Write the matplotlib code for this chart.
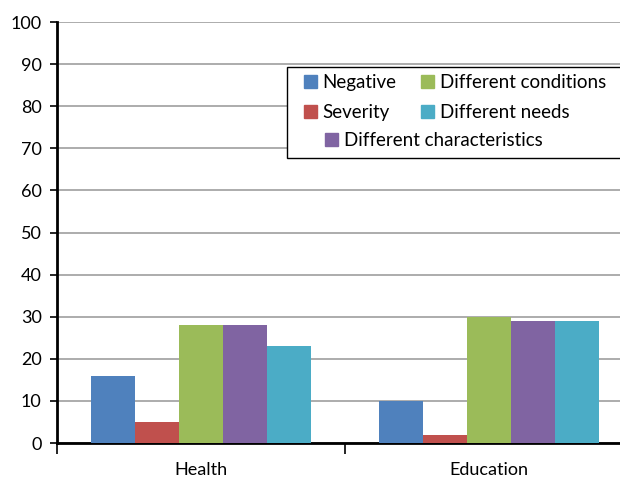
import numpy as np
import matplotlib.pyplot as plt
from matplotlib.patches import Patch, Rectangle

plt.rcParams['font.family'] = ['Lato', 'DejaVu Sans']

categories = ['Health', 'Education']
series = ['Negative', 'Severity', 'Different conditions',
          'Different characteristics', 'Different needs']
negative = [16, 10]
severity = [5, 2]
conditions = [28, 30]
characteristics = [28, 29]
needs = [23, 29]
colors = ['#4F81BD', '#C0504D', '#9BBB59', '#8064A2', '#4BACC6']

values = [negative, severity, conditions, characteristics, needs]

fig = plt.figure(figsize=(6.2, 4.79), dpi=100)
ax = fig.add_axes([57/620, 36/479, 563/620, 421/479])

x = np.arange(len(categories))
w = 0.153
for i, (vals, c) in enumerate(zip(values, colors)):
    ax.bar(x + (i - 2) * w, vals, w, color=c, zorder=3)

ax.set_ylim(0, 100)
ax.set_xlim(-0.5, 563/288 - 0.5)
ax.set_yticks(range(0, 101, 10))
ax.yaxis.grid(True, color='#a6a6a6', linewidth=1.3, zorder=0)
ax.tick_params(axis='y', labelsize=13, length=5, width=1.2, pad=6, colors='black')
ax.set_xticks(x)
ax.set_xticklabels(categories, fontsize=13)
ax.tick_params(axis='x', length=0, pad=14)
ax.set_xticks([-0.5, 0.5], minor=True)
ax.tick_params(axis='x', which='minor', length=8, width=1.2)

for s in ['top', 'right']:
    ax.spines[s].set_visible(False)
for s in ['left', 'bottom']:
    ax.spines[s].set_linewidth(2)

# legend: frame drawn by hand, four entries in two columns plus one centred below
ax.add_patch(Rectangle((287/620, (479-158)/479), 340/620, 91/479,
                       transform=fig.transFigure, facecolor='white',
                       edgecolor='black', linewidth=1, zorder=5))
h = [Patch(color=c) for c in colors]
leg_kw = dict(frameon=False, fontsize=13.5, handlelength=0.7, handleheight=0.7,
              handletextpad=0.3, borderaxespad=0, borderpad=0)
leg1 = fig.legend([h[0], h[1], h[2], h[4]],
                  [series[0], series[1], series[2], series[4]],
                  ncol=2, loc='upper left', bbox_to_anchor=(304/620, 1 - 74/479),
                  columnspacing=1.3, labelspacing=0.68, **leg_kw)
leg2 = fig.legend([h[3]], [series[3]], loc='upper left',
                  bbox_to_anchor=(325/620, 1 - 132/479), **leg_kw)
leg1.set_zorder(6)
leg2.set_zorder(6)

fig.savefig('out.png', dpi=100)
